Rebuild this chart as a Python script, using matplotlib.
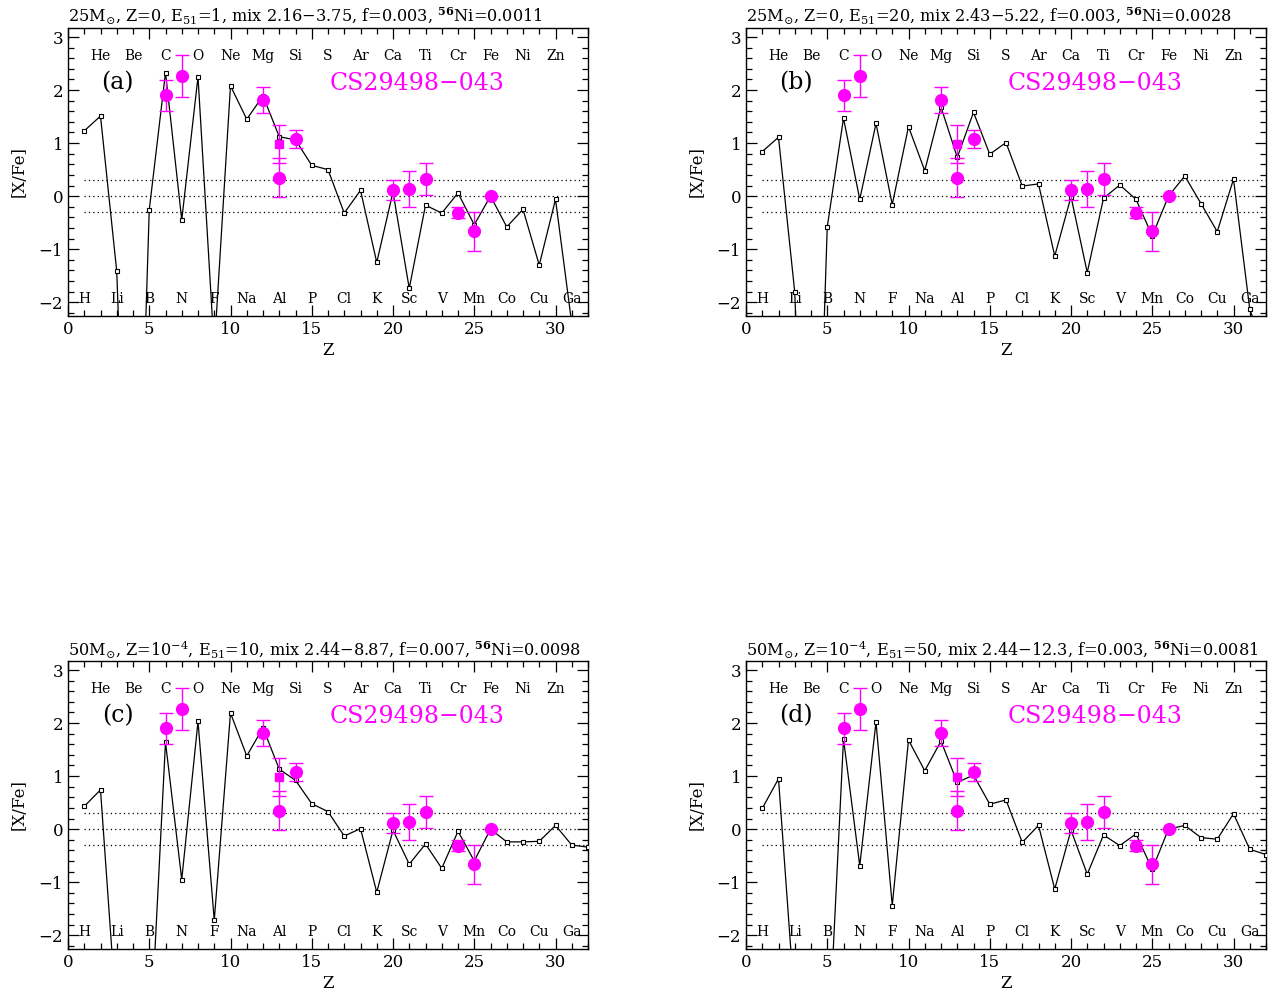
import numpy as np
import matplotlib.pyplot as plt

plt.rcParams['font.family'] = ['DejaVu Serif']
plt.rcParams['mathtext.fontset'] = 'dejavuserif'

# ---------------- data ----------------
Z = list(range(1, 33))

# model [X/Fe] (Z = 1 .. 32); values far below the axis are off-scale
model_a = [1.23, 1.51, -1.42, -10.0, -0.26, 2.33, -0.45, 2.25, -2.9, 2.08,
           1.45, 1.89, 1.12, 1.06, 0.58, 0.50, -0.32, 0.11, -1.25, 0.08,
           -1.74, -0.17, -0.32, 0.06, -0.54, 0.00, -0.58, -0.25, -1.30, -0.06,
           -2.4, -3.0]
model_b = [0.84, 1.11, -1.81, -10.0, -0.58, 1.47, -0.06, 1.37, -0.16, 1.31,
           0.48, 1.68, 0.73, 1.58, 0.79, 1.01, 0.19, 0.23, -1.13, -0.01,
           -1.44, -0.04, 0.21, -0.06, -0.75, 0.00, 0.38, -0.14, -0.67, 0.32,
           -2.13, -3.0]
model_c = [0.43, 0.74, -3.6, -6.0, -4.4, 1.64, -0.95, 2.03, -1.72, 2.19,
           1.38, 1.91, 1.13, 0.92, 0.48, 0.33, -0.13, 0.01, -1.19, -0.02,
           -0.66, -0.28, -0.74, -0.04, -0.60, 0.00, -0.24, -0.24, -0.23, 0.07,
           -0.30, -0.34]
model_d = [0.39, 0.95, -3.3, -6.0, -4.6, 1.70, -0.69, 2.02, -1.44, 1.68,
           1.10, 1.66, 0.88, 1.02, 0.47, 0.55, -0.25, 0.07, -1.13, -0.02,
           -0.85, -0.11, -0.31, -0.09, -0.76, 0.00, 0.07, -0.16, -0.19, 0.29,
           -0.38, -0.48]

# observed CS29498-043
obs_z = [6, 7, 12, 13, 14, 20, 21, 22, 24, 25, 26]
obs_val = [1.90, 2.27, 1.81, 0.35, 1.07, 0.12, 0.14, 0.33, -0.31, -0.66, 0.00]
obs_err = [0.29, 0.40, 0.24, 0.36, 0.17, 0.19, 0.34, 0.30, 0.10, 0.37, 0.0]
# second Al value (square)
al2_z = [13]
al2_val = [0.99]
al2_err = [0.36]

elem_top = ["He", "Be", "C", "O", "Ne", "Mg", "Si", "S", "Ar", "Ca", "Ti",
            "Cr", "Fe", "Ni", "Zn"]
elem_bot = ["H", "Li", "B", "N", "F", "Na", "Al", "P", "Cl", "K", "Sc", "V",
            "Mn", "Co", "Cu", "Ga"]

titles = [
    r"25M$_{\odot}$, Z=0, E$_{51}$=1, mix 2.16$-$3.75, f=0.003, $^{\mathbf{56}}$Ni=0.0011",
    r"25M$_{\odot}$, Z=0, E$_{51}$=20, mix 2.43$-$5.22, f=0.003, $^{\mathbf{56}}$Ni=0.0028",
    r"50M$_{\odot}$, Z=10$^{-4}$, E$_{51}$=10, mix 2.44$-$8.87, f=0.007, $^{\mathbf{56}}$Ni=0.0098",
    r"50M$_{\odot}$, Z=10$^{-4}$, E$_{51}$=50, mix 2.44$-$12.3, f=0.003, $^{\mathbf{56}}$Ni=0.0081",
]
panel_tags = ["(a)", "(b)", "(c)", "(d)"]
models = [model_a, model_b, model_c, model_d]

MAG = "#ff00ff"


def draw_panel(ax, model, title, tag):
    ax.plot(Z, model, color="black", lw=0.9, marker="s", ms=3.5,
            mfc="white", mec="black", mew=0.8, zorder=3)
    for yv in (0.3, 0.0, -0.3):
        ax.plot([1, 32], [yv, yv], color="black", lw=0.9, ls=(0, (1, 2.5)), zorder=1)

    ax.errorbar(obs_z, obs_val, yerr=obs_err, fmt="o", color=MAG, ms=8.5,
                ecolor=MAG, elinewidth=1.0, capsize=5, capthick=1.0, zorder=5)
    ax.errorbar(al2_z, al2_val, yerr=al2_err, fmt="s", color=MAG, ms=6,
                ecolor=MAG, elinewidth=1.0, capsize=5, capthick=1.0, zorder=5)

    for i, name in enumerate(elem_top):
        ax.text(2 * (i + 1), 2.65, name, ha="center", va="center", fontsize=10)
    for i, name in enumerate(elem_bot):
        ax.text(2 * i + 1, -1.94, name, ha="center", va="center", fontsize=10)

    ax.text(3.05, 2.13, tag, ha="center", va="center", fontsize=17)
    ax.text(16.1, 2.13, "CS29498\u2212043", ha="left", va="center",
            fontsize=17, color=MAG)

    ax.set_xlim(0, 32)
    ax.set_ylim(-2.26, 3.17)
    ax.set_xticks(np.arange(0, 31, 5))
    ax.set_xticks(np.arange(0, 33, 1), minor=True)
    ax.set_yticks(np.arange(-2, 4, 1))
    ax.set_yticks(np.arange(-2.2, 3.2, 0.2), minor=True)
    ax.tick_params(which="both", direction="in", top=True, right=True,
                   labelsize=12, width=0.9)
    ax.tick_params(which="major", length=8)
    ax.tick_params(which="minor", length=4)
    for s in ax.spines.values():
        s.set_linewidth(1.0)
    ax.set_xlabel("Z", fontsize=12, labelpad=3)
    ax.set_ylabel("[X/Fe]", fontsize=12, labelpad=8)
    ax.set_title(title, loc="left", fontsize=11.6, pad=4)


fig = plt.figure(figsize=(12.76, 9.93), dpi=100)
lefts = [68 / 1276, 746 / 1276, 68 / 1276, 746 / 1276]
bottoms = [1 - 316 / 993, 1 - 316 / 993, 1 - 949 / 993, 1 - 949 / 993]
w = 520 / 1276
h = 288 / 993
for k in range(4):
    ax = fig.add_axes([lefts[k], bottoms[k], w, h])
    draw_panel(ax, models[k], titles[k], panel_tags[k])

fig.savefig("out.png", dpi=100)
